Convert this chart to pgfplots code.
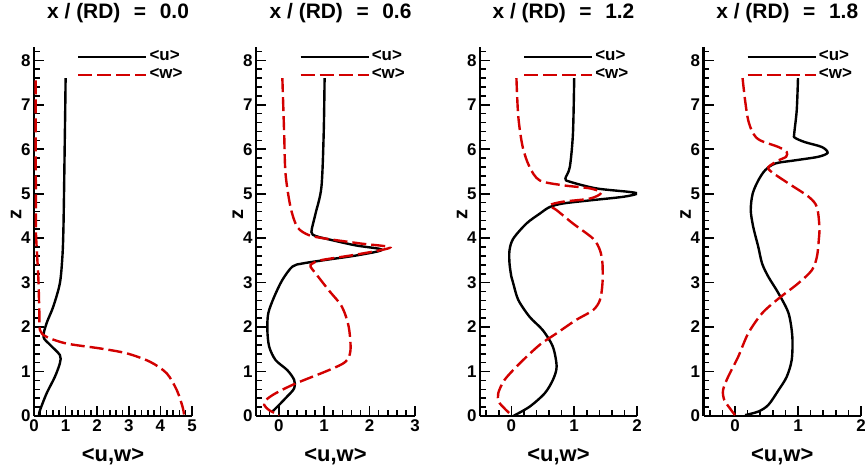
\documentclass[border=0pt]{standalone}
\usepackage{fontspec}
\setmainfont{Liberation Sans}
\usepackage{pgfplots}
\pgfplotsset{compat=1.18}
\definecolor{wred}{RGB}{210,0,0}

\pgfplotsset{
  profile/.style={
    scale only axis, height=369bp, ymin=0, ymax=8.3,
    anchor=south west,
    axis x line=bottom, axis y line=left,
    axis line style={-, line width=2.2bp},
    tick align=inside, major tick length=10bp, minor tick length=5.5bp,
    every tick/.style={black, line width=1.6bp},
    ytick={0,...,8}, minor ytick={0.2,0.4,...,8.2},
    tick label style={font=\fontsize{17}{17}\selectfont\bfseries},
    /pgf/number format/assume math mode=true,
    xlabel={<u,w>}, ylabel={z},
    xlabel style={font=\fontsize{22}{22}\selectfont\bfseries,
      at={(axis description cs:0.5,-0.111)}, anchor=center},
    ylabel style={font=\fontsize{20}{20}\selectfont\bfseries,
      at={(axis description cs:-0.114,0.545)}, anchor=center},
    title style={font=\fontsize{21}{21}\selectfont\bfseries,
      at={(axis description cs:0.532,1.0623)}, anchor=base},
    legend cell align=left,
    legend image code/.code={\draw[#1] (0bp,0bp) -- (68bp,0bp);},
    legend style={draw=none, fill=none, inner sep=0pt, row sep=2.5bp,
      at={(axis description cs:0.272,0.993)}, anchor=north west,
      font=\fontsize{17}{17}\selectfont\bfseries,
      nodes={text height=9bp, text depth=2bp},
      /tikz/every even column/.append style={column sep=13bp}},
  },
  ucurve/.style={black, line width=2.4bp, smooth, tension=0.5},
  wcurve/.style={wred, line width=2.4bp, dash pattern=on 14bp off 5bp, smooth, tension=0.5},
}

\begin{document}
\begin{tikzpicture}
\path[use as bounding box] (0bp,0bp) rectangle (868bp,469bp);

% x/(RD) = 0.0
\begin{axis}[profile, at={(34bp,53bp)}, width=158bp,
  xmin=0, xmax=5, xtick={0,...,5}, minor xtick={0.2,0.4,...,5},
  title={x / (RD)\hspace{0.65em}=\hspace{0.65em}0.0}]
\addplot[ucurve] coordinates {(1.00,7.60) (0.99,7.0) (0.97,6.0) (0.95,5.0) (0.93,4.18) (0.90,3.6) (0.82,2.99) (0.61,2.46) (0.40,2.09) (0.30,1.78) (0.51,1.60) (0.82,1.37) (0.82,1.19) (0.66,0.88) (0.40,0.51) (0.19,0.13) (0.16,0.02)};
\addlegendentry{<u>}
\addplot[wcurve] coordinates {(0.05,7.55) (0.05,6.0) (0.06,5.0) (0.06,4.18) (0.10,3.6) (0.14,3.06) (0.17,2.31) (0.19,1.93) (0.40,1.78) (1.03,1.63) (2.09,1.52) (2.93,1.41) (3.67,1.22) (4.20,0.96) (4.52,0.58) (4.70,0.21) (4.75,0.02)};
\addlegendentry{<w>}
\end{axis}

% x/(RD) = 0.6
\begin{axis}[profile, at={(256bp,53bp)}, width=159bp,
  xmin=-0.5, xmax=3, xtick={0,...,3}, minor xtick={-0.4,-0.2,...,3},
  title={x / (RD)\hspace{0.65em}=\hspace{0.65em}0.6}]
\addplot[ucurve] coordinates {(1.01,7.60) (0.99,6.35) (0.94,5.15) (0.81,4.55) (0.72,4.14) (0.81,4.05) (1.03,3.99) (1.68,3.84) (2.27,3.74) (1.76,3.62) (1.03,3.51) (0.52,3.43) (0.30,3.36) (0.08,3.06) (-0.10,2.68) (-0.23,2.31) (-0.25,1.93) (-0.21,1.56) (-0.07,1.26) (0.19,1.03) (0.34,0.81) (0.34,0.62) (0.15,0.40) (-0.03,0.21) (-0.14,0.10)};
\addlegendentry{<u>}
\addplot[wcurve] coordinates {(0.08,7.60) (0.12,6.35) (0.15,5.45) (0.26,4.70) (0.41,4.25) (0.66,4.07) (1.03,3.99) (1.80,3.88) (2.45,3.79) (1.76,3.64) (0.96,3.51) (0.74,3.43) (0.70,3.36) (0.81,3.21) (1.10,2.83) (1.39,2.46) (1.54,2.01) (1.58,1.48) (1.47,1.22) (1.10,1.03) (0.37,0.73) (-0.07,0.51) (-0.28,0.36) (-0.32,0.25) (-0.21,0.13) (0.01,0.02)};
\addlegendentry{<w>}
\end{axis}

% x/(RD) = 1.2
\begin{axis}[profile, at={(480bp,53bp)}, width=157bp,
  xmin=-0.5, xmax=2, xtick={0,...,2}, minor xtick={-0.4,-0.2,...,2},
  title={x / (RD)\hspace{0.65em}=\hspace{0.65em}1.2}]
\addplot[ucurve] coordinates {(1.00,7.60) (0.98,6.35) (0.93,5.60) (0.86,5.34) (0.93,5.27) (1.35,5.12) (1.88,5.04) (2.00,5.00) (1.78,4.93) (1.25,4.85) (0.82,4.78) (0.61,4.70) (0.45,4.55) (0.24,4.33) (0.03,3.99) (-0.03,3.73) (-0.03,3.43) (0.00,3.13) (0.03,2.98) (0.11,2.61) (0.29,2.23) (0.50,1.93) (0.66,1.56) (0.72,1.11) (0.66,0.81) (0.53,0.51) (0.29,0.21) (0.03,0.00)};
\addlegendentry{<u>}
\addplot[wcurve] coordinates {(0.08,7.60) (0.11,6.73) (0.18,6.05) (0.29,5.60) (0.45,5.30) (0.82,5.19) (1.25,5.12) (1.43,5.02) (1.25,4.89) (0.82,4.82) (0.61,4.74) (0.72,4.63) (0.98,4.33) (1.30,3.99) (1.41,3.73) (1.45,3.43) (1.45,2.98) (1.41,2.61) (1.30,2.38) (1.03,2.16) (0.72,1.86) (0.45,1.60) (0.13,1.18) (-0.11,0.81) (-0.21,0.51) (-0.20,0.32) (-0.11,0.17) (0.00,0.02)};
\addlegendentry{<w>}
\end{axis}

% x/(RD) = 1.8
\begin{axis}[profile, at={(703.5bp,53bp)}, width=157.5bp,
  xmin=-0.5, xmax=2, xtick={0,...,2}, minor xtick={-0.4,-0.2,...,2},
  title={x / (RD)\hspace{0.65em}=\hspace{0.65em}1.8}]
\addplot[ucurve] coordinates {(1.00,7.60) (0.98,6.88) (0.94,6.35) (0.95,6.26) (1.11,6.16) (1.38,6.05) (1.47,5.92) (1.32,5.83) (0.95,5.75) (0.64,5.68) (0.48,5.53) (0.37,5.30) (0.28,5.00) (0.25,4.63) (0.29,4.25) (0.37,3.80) (0.43,3.43) (0.53,3.13) (0.69,2.76) (0.85,2.31) (0.91,1.78) (0.90,1.26) (0.82,0.88) (0.69,0.58) (0.53,0.25) (0.37,0.10) (0.16,0.02)};
\addlegendentry{<u>}
\addplot[wcurve] coordinates {(0.12,7.60) (0.16,7.10) (0.21,6.65) (0.29,6.35) (0.40,6.20) (0.69,6.05) (0.82,5.94) (0.81,5.83) (0.69,5.75) (0.53,5.60) (0.58,5.49) (0.85,5.23) (1.17,4.93) (1.30,4.70) (1.34,4.25) (1.33,3.96) (1.30,3.58) (1.22,3.28) (1.00,2.98) (0.69,2.64) (0.43,2.31) (0.21,1.86) (0.05,1.33) (-0.11,0.88) (-0.19,0.58) (-0.17,0.36) (-0.08,0.17) (0.00,0.02)};
\addlegendentry{<w>}
\end{axis}
\end{tikzpicture}
\end{document}
